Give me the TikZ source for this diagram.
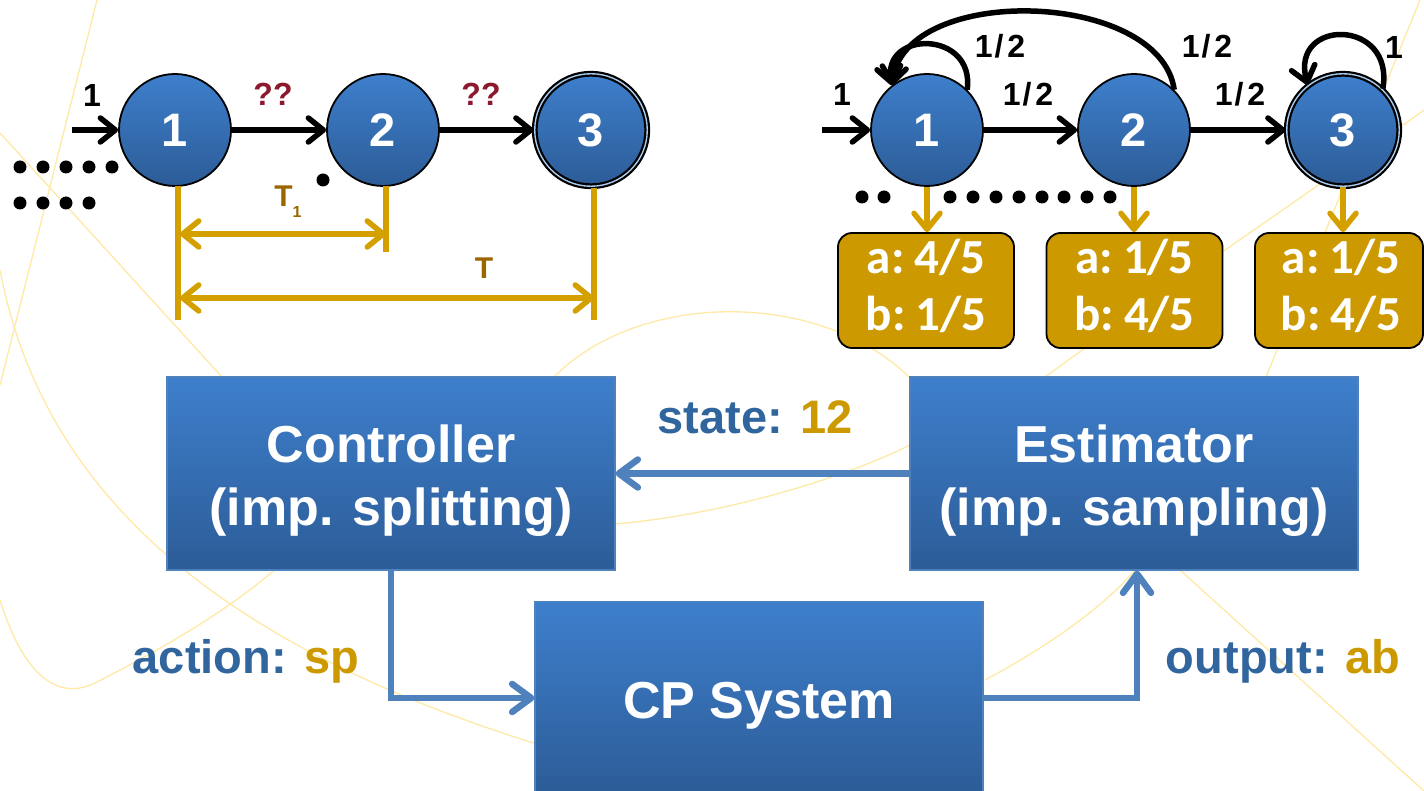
\documentclass[tikz,border=0pt]{standalone}
\usepackage{fontspec}
\setmainfont{Liberation Sans}
\newfontfamily\calfont{Carlito}
\usetikzlibrary{arrows.meta}
\definecolor{nodetop}{HTML}{3E7FCC}
\definecolor{nodebot}{HTML}{2C5C97}
\definecolor{gold}{HTML}{CC9900}
\definecolor{goldline}{HTML}{D4A000}
\definecolor{tcol}{HTML}{996600}
\definecolor{qred}{HTML}{8B1A2E}
\definecolor{labblue}{HTML}{30659E}
\definecolor{arrblue}{HTML}{4F81BD}
\definecolor{bgline}{HTML}{FFE9A6}
\definecolor{ringblue}{HTML}{A9CBEC}
\tikzset{
  stnode/.style={circle, draw=black, line width=1.8pt, top color=nodetop, bottom color=nodebot,
    minimum size=112pt, inner sep=0pt, text=white, font=\bfseries\fontsize{47}{47}\selectfont},
  accnode/.style={stnode, line width=2.2pt, double=ringblue, double distance=1.4pt, minimum size=112.5pt},
  blk/.style={draw=black, line width=5.5pt, -{Straight Barb[length=15pt,width=24pt,round]}},
  blab/.style={text=black, font=\bfseries\fontsize{32}{32}\selectfont, inner sep=0pt},
  qlab/.style={text=qred, font=\bfseries\fontsize{32}{32}\selectfont, inner sep=0pt},
  tlab/.style={text=tcol, font=\bfseries\fontsize{30}{30}\selectfont, inner sep=0pt},
  gl/.style={draw=goldline, line width=5.5pt},
  gdim/.style={draw=goldline, line width=5.5pt, {Straight Barb[length=16pt,width=26pt,round]}-{Straight Barb[length=16pt,width=26pt,round]}},
  garr/.style={draw=goldline, line width=5.5pt, -{Straight Barb[length=16pt,width=26pt,round]}},
  goldbox/.style={rectangle, rounded corners=14pt, draw=black, line width=1.8pt, fill=gold,
    minimum width=176pt, minimum height=115pt, inner sep=0pt},
  gtext/.style={text=white, font=\calfont\bfseries\fontsize{49}{49}\selectfont, inner sep=0pt},
  bluebox/.style={rectangle, draw=arrblue, line width=1.2pt, top color=nodetop, bottom color=nodebot,
    minimum width=448pt, minimum height=193pt, inner sep=0pt},
  btext/.style={text=white, font=\bfseries\fontsize{52}{52}\selectfont, inner sep=0pt},
  barr/.style={draw=arrblue, line width=6.5pt, -{Straight Barb[length=19pt,width=28pt,round]}},
  flab/.style={text=labblue, font=\bfseries\fontsize{47}{47}\selectfont, inner sep=0pt},
  dot/.style={fill=black}
}
\begin{document}
\begin{tikzpicture}[x=1pt,y=-1pt]
\useasboundingbox (0,0) rectangle (1424,791);
\clip (0,0) rectangle (1424,791);
\fill[white] (0,0) rectangle (1424,791);
% decorative background curves
\begin{scope}[draw=bgline, line width=1.3pt]
\draw (97,0) -- (0,385);
\draw (0,133) -- (222,377);
\draw (0,270) .. controls (40,480) and (200,640) .. (540,745);
\draw (0,600) .. controls (25,680) and (60,700) .. (95,683) .. controls (160,650) and (230,610) .. (280,565);
\draw (554,377) .. controls (640,290) and (820,290) .. (909,377);
\draw (615,524) .. controls (720,515) and (840,480) .. (910,445);
\draw (985,680) .. controls (1060,640) and (1110,600) .. (1135,570);
\draw (1180,570) -- (1424,791);
\draw (1045,377) .. controls (1150,300) and (1300,200) .. (1424,110);
\draw (1266,377) -- (1420,0);
\end{scope}

% ---------- left automaton ----------
\node[stnode] (n1) at (175,130) {1};
\node[stnode] (n2) at (383,130) {2};
\node[accnode] (n3) at (591,130) {3};
\coordinate (inL) at (72,130);
\draw[blk] (inL) -- (n1);
\draw[blk] (n1) -- (n2);
\draw[blk] (n2) -- (n3);
\node[blab] (lin) at (92,95) {1};
\node[qlab] (q1) at (273,94) {??};
\node[qlab] (q2) at (481,94) {??};
\foreach \x in {20,43,66,89,112} \fill[dot] (\x,167) circle (6.5pt);
\foreach \x in {20,43,66,89} \fill[dot] (\x,203) circle (6.5pt);
\fill[dot] (323,180) circle (6.5pt);
% time lines
\coordinate (v1a) at (178,186);
\coordinate (v1b) at (178,320);
\coordinate (v2a) at (386,186);
\coordinate (v2b) at (386,252);
\coordinate (v3a) at (594,188);
\coordinate (v3b) at (594,320);
\draw[gl] (v1a) -- (v1b);
\draw[gl] (v2a) -- (v2b);
\draw[gl] (v3a) -- (v3b);
\coordinate (t1a) at (180,234);
\coordinate (t1b) at (386,234);
\coordinate (ta) at (180,298);
\coordinate (tb) at (594,298);
\draw[gdim] (t1a) -- (t1b);
\draw[gdim] (ta) -- (tb);
\node[tlab, anchor=base] (lt1) at (288,207) {T\raisebox{-11pt}{\fontsize{16}{16}\selectfont 1}};
\node[tlab] (lt) at (484,268) {T};

% ---------- right automaton ----------
\node[stnode] (r1) at (927,130) {1};
\node[stnode] (r2) at (1134,130) {2};
\node[accnode] (r3) at (1343,130) {3};
\coordinate (inR) at (822,130);
\draw[blk] (inR) -- (r1);
\draw[blk] (r1) -- (r2);
\draw[blk] (r2) -- (r3);
\draw[blk] (r1.45) .. controls (975,30) and (882,30) .. (r1.128);
\draw[blk] (r2.45) .. controls (1160,-10) and (905,-17) .. (r1.128);
\draw[blk] (r3.46) .. controls (1395,18) and (1290,18) .. (r3.128);
\node[blab] (rin) at (842,94) {1};
\node[blab] (p11) at (1000,46) {1\kern2pt/\kern4pt2};
\node[blab] (p12) at (1028,94) {1\kern2pt/\kern4pt2};
\node[blab] (p21) at (1207,46) {1\kern2pt/\kern4pt2};
\node[blab] (p23) at (1240,94) {1\kern2pt/\kern4pt2};
\node[blab] (p33) at (1394,47) {1};
\foreach \x in {862,884} \fill[dot] (\x,197) circle (6.5pt);
\foreach \x in {950,973,996,1019,1042,1064,1087,1110} \fill[dot] (\x,197) circle (6.5pt);
% emission boxes
\node[goldbox] (b1) at (926,290.5) {};
\node[goldbox] (b2) at (1134.5,290.5) {};
\node[goldbox, minimum width=168pt] (b3) at (1339,290.5) {};
\draw[garr] (r1.south) -- (r1.south |- b1.north);
\draw[garr] (r2.south) -- (r2.south |- b2.north);
\draw[garr] (r3.south) -- (r3.south |- b3.north);
\node[gtext, anchor=base] (b1a) at (926,274) {a:\kern10pt4/5};
\node[gtext, anchor=base] (b1b) at (926,331) {b:\kern10pt1/5};
\node[gtext, anchor=base] (b2a) at (1134.5,274) {a:\kern10pt1/5};
\node[gtext, anchor=base] (b2b) at (1134.5,331) {b:\kern10pt4/5};
\node[gtext, anchor=base] (b3a) at (1341,274) {a:\kern10pt1/5};
\node[gtext, anchor=base] (b3b) at (1341,331) {b:\kern10pt4/5};

% ---------- block diagram ----------
\node[bluebox] (ctrl) at (391,473.5) {};
\node[bluebox] (est) at (1134,473.5) {};
\node[bluebox] (cp) at (759,698) {};
\node[btext, anchor=base] (ct1) at (391,462) {Controller};
\node[btext, anchor=base] (ct2) at (391,525) {(imp. splitting)};
\node[btext, anchor=base] (et1) at (1134,462) {Estimator};
\node[btext, anchor=base] (et2) at (1134,525) {(imp. sampling)};
\node[btext, anchor=base] (cpt) at (759,718) {CP System};
\draw[barr] (est.west) -- (ctrl.east);
\draw[barr] (ctrl.south) |- (cp.west);
\draw[barr] (cp.east) -| ([xshift=3pt]est.south);
\node[flab, anchor=base] (ls) at (755,433) {state: \textcolor{gold}{12}};
\node[flab, anchor=base] (la) at (246,673) {action: \textcolor{gold}{sp}};
\node[flab, anchor=base] (lo) at (1283,673) {output: \textcolor{gold}{ab}};
\end{tikzpicture}
\end{document}
